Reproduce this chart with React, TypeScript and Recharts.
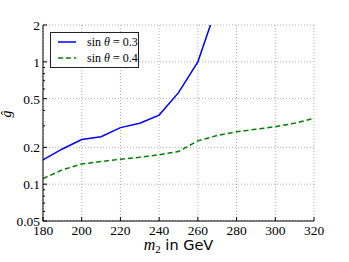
import React from 'react';
import { CartesianGrid, Legend, Line, LineChart, XAxis, YAxis } from 'recharts';

const MASS = [180, 190, 200, 210, 220, 230, 240, 250, 260, 270, 280, 290, 300, 310, 320];
const G_SIN03 = [0.158, 0.194, 0.232, 0.244, 0.29, 0.315, 0.367, 0.56, 1.0, 2.9, null, null, null, null, null];
const G_SIN04 = [0.111, 0.131, 0.146, 0.153, 0.16, 0.166, 0.174, 0.185, 0.226, 0.25, 0.268, 0.281, 0.295, 0.315, 0.345];
const SERIES_NAMES = ['sin θ = 0.3', 'sin θ = 0.4'];
const X_TICKS = [180, 200, 220, 240, 260, 280, 300, 320];
const Y_MAJOR = [0.05, 0.1, 0.2, 0.5, 1, 2];
const Y_MINOR = [0.06, 0.07, 0.08, 0.09, 0.3, 0.4, 0.6, 0.7, 0.8, 0.9];

const data = MASS.map((m, i) => ({ m, s03: G_SIN03[i], s04: G_SIN04[i] }));
const Y_ALL = [...Y_MAJOR, ...Y_MINOR].sort((a, b) => a - b);

const SERIF = '"Liberation Serif", "Times New Roman", serif';
const SANS = '"DejaVu Sans", sans-serif';
const styles = [
  { key: 's03', color: '#0000ff', dash: undefined as string | undefined },
  { key: 's04', color: '#008000', dash: '5 3' },
];

const LeftTick = (props: any) => {
  const { x, y, payload } = props;
  const major = Y_MAJOR.includes(payload.value);
  return (
    <g>
      <line x1={x} x2={x + (major ? 4 : 2)} y1={y} y2={y} stroke="#000" />
      {major && (
        <text x={x - 3} y={y} dy="0.36em" textAnchor="end" fontFamily={SERIF} fontSize={13.5} fill="#000">
          {payload.value}
        </text>
      )}
    </g>
  );
};

const RightTick = (props: any) => {
  const { x, y, payload } = props;
  const major = Y_MAJOR.includes(payload.value);
  return <line x1={x} x2={x - (major ? 4 : 2)} y1={y} y2={y} stroke="#000" />;
};

const BottomTick = (props: any) => {
  const { x, y, payload } = props;
  return (
    <g>
      <line x1={x} x2={x} y1={y} y2={y - 4} stroke="#000" />
      <text x={x} y={y + 14} textAnchor="middle" fontFamily={SERIF} fontSize={13.5} fill="#000">
        {payload.value}
      </text>
    </g>
  );
};

const TopTick = (props: any) => {
  const { x, y } = props;
  return <line x1={x} x2={x} y1={y} y2={y + 4} stroke="#000" />;
};

const YLabel = (props: any) => {
  const vb = props.viewBox;
  const cx = 10.5;
  const cy = vb.y + vb.height / 2 - 9;
  return (
    <text x={cx} y={cy} transform={`rotate(-90 ${cx} ${cy})`} textAnchor="middle" fontFamily={SERIF} fontStyle="italic" fontSize={14} fill="#000">
      ĝ
    </text>
  );
};

const XLabel = (props: any) => {
  const vb = props.viewBox;
  return (
    <text x={vb.x + vb.width / 2} y={vb.y + 29} textAnchor="middle" fontSize={14.5} fill="#000">
      <tspan fontFamily={SERIF} fontStyle="italic" fontSize={16}>m</tspan>
      <tspan fontFamily={SERIF} fontSize={11} dy={3}>2</tspan>
      <tspan fontFamily={SANS} dy={-3}> in GeV</tspan>
    </text>
  );
};

const renderName = (name: string) => {
  const [a, b] = name.split('θ');
  return (
    <>
      {a}
      <i>θ</i>
      {b}
    </>
  );
};

const LegendBox = () => (
  <div
    style={{
      width: 89,
      height: 36,
      boxSizing: 'border-box',
      border: '1px solid #222',
      background: '#fff',
      padding: '1px 0 0 6px',
      fontFamily: SERIF,
      fontSize: 12,
      color: '#000',
    }}
  >
    {SERIES_NAMES.map((name, i) => (
      <div key={name} style={{ display: 'flex', alignItems: 'center', height: 16 }}>
        <svg width={20} height={8} style={{ display: 'block' }}>
          <line x1={1} x2={19} y1={4} y2={4} stroke={styles[i].color} strokeWidth={1.5} strokeDasharray={styles[i].dash} />
        </svg>
        <span style={{ marginLeft: 10, whiteSpace: 'nowrap' }}>{renderName(name)}</span>
      </div>
    ))}
  </div>
);

export default function App() {
  return (
    <div>
      <style>{'body{margin:0;background:#fff}'}</style>
      <LineChart width={349} height={262} data={data} margin={{ top: 25, right: 35, bottom: 0, left: 0 }}>
        <CartesianGrid
          stroke="#999"
          strokeWidth={0.8}
          strokeDasharray="1 2"
          horizontalValues={Y_MAJOR}
          verticalValues={X_TICKS}
        />
        <XAxis
          dataKey="m"
          type="number"
          domain={[180, 320]}
          ticks={X_TICKS}
          height={41}
          tickSize={0}
          tickMargin={0}
          tick={BottomTick}
          tickLine={false}
          axisLine={{ stroke: '#000' }}
          label={XLabel}
        />
        <XAxis
          xAxisId="top"
          orientation="top"
          dataKey="m"
          type="number"
          domain={[180, 320]}
          ticks={X_TICKS}
          height={0}
          tickSize={0}
          tickMargin={0}
          tick={TopTick}
          tickLine={false}
          axisLine={{ stroke: '#000' }}
        />
        <YAxis
          scale="log"
          type="number"
          domain={[0.05, 2]}
          allowDataOverflow
          ticks={Y_ALL}
          interval={0}
          width={43}
          tickSize={0}
          tickMargin={0}
          tick={LeftTick}
          tickLine={false}
          axisLine={{ stroke: '#000' }}
          label={YLabel}
        />
        <YAxis
          yAxisId="right"
          orientation="right"
          scale="log"
          type="number"
          domain={[0.05, 2]}
          allowDataOverflow
          ticks={Y_ALL}
          interval={0}
          width={0}
          tickSize={0}
          tickMargin={0}
          tick={RightTick}
          tickLine={false}
          axisLine={{ stroke: '#000' }}
        />
        <Legend
          layout="vertical"
          align="center"
          verticalAlign="middle"
          width={89}
          height={36}
          wrapperStyle={{ left: 50, top: 32 }}
          content={LegendBox}
        />
        {styles.map((s, i) => (
          <Line
            key={s.key}
            dataKey={s.key}
            name={SERIES_NAMES[i]}
            stroke={s.color}
            strokeWidth={1.5}
            strokeDasharray={s.dash}
            dot={false}
            activeDot={false}
            isAnimationActive={false}
          />
        ))}
      </LineChart>
    </div>
  );
}
